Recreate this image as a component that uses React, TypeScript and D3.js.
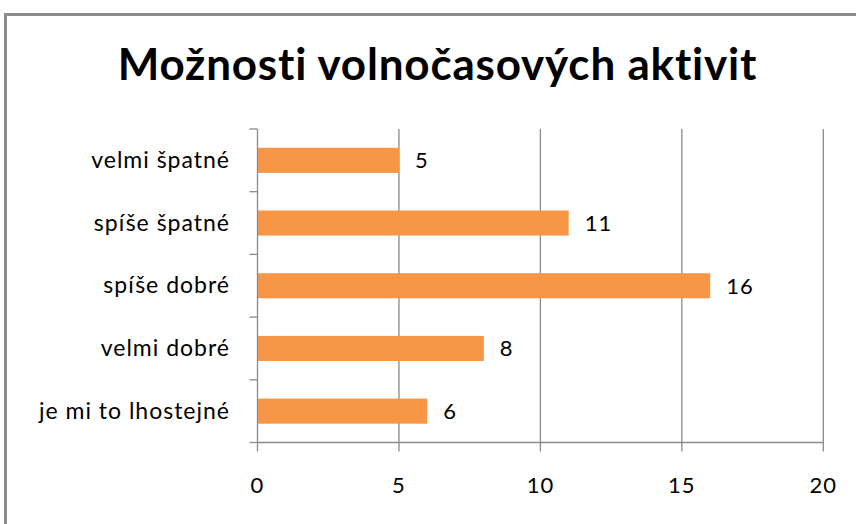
import React from "react";
import * as d3 from "d3";

const categories = ["velmi špatné", "spíše špatné", "spíše dobré", "velmi dobré", "je mi to lhostejné"];
const values = [5, 11, 16, 8, 6];
const xTicks = [0, 5, 10, 15, 20];
const title = "Možnosti volnočasových aktivit";

const W = 856;
const H = 524;
const plot = { left: 257.5, right: 823.3, top: 129, bottom: 442.5 };
const font = "Lato, 'Open Sans', sans-serif";
const grid = "#8a8a8a";

export default function App() {
  const x = d3.scaleLinear().domain([0, 20]).range([plot.left, plot.right]);
  const y = d3.scaleBand<string>().domain(categories).range([plot.top, plot.bottom]).paddingInner(0.6).paddingOuter(0.3);
  const band = d3.scaleBand<string>().domain(categories).range([plot.top, plot.bottom]);
  const bounds = categories.map((c) => band(c) as number).concat([plot.bottom]);

  return (
    <svg width={W} height={H} style={{ position: "absolute", left: 0, top: 0, background: "#fff" }}>
      <rect x={5.5} y={14.5} width={900} height={600} fill="#fff" stroke="#8c8c8c" strokeWidth={3} />
      <text x={437.5} y={80} textAnchor="middle" fontFamily={font} fontWeight={700} fontSize={44} letterSpacing={0.8} fill="#000">
        {title}
      </text>
      {xTicks.filter((t) => t > 0).map((t) => (
        <line key={"g" + t} x1={x(t)} x2={x(t)} y1={plot.top} y2={plot.bottom} stroke={grid} strokeWidth={1.3} />
      ))}
      {categories.map((c, i) => (
        <rect key={c} x={x(0)} y={y(c)} width={x(values[i]) - x(0)} height={y.bandwidth()} fill="#f79646" />
      ))}
      <line x1={plot.left} x2={plot.left} y1={plot.top} y2={plot.bottom} stroke={grid} strokeWidth={1.3} />
      <line x1={plot.left} x2={plot.right} y1={plot.bottom} y2={plot.bottom} stroke={grid} strokeWidth={1.3} />
      {bounds.map((b, i) => (
        <line key={"yt" + i} x1={plot.left - 8} x2={plot.left} y1={b} y2={b} stroke={grid} strokeWidth={1.3} />
      ))}
      {xTicks.map((t) => (
        <g key={"xt" + t}>
          <line x1={x(t)} x2={x(t)} y1={plot.bottom} y2={plot.bottom + 9} stroke={grid} strokeWidth={1.3} />
          <text x={x(t)} y={493} textAnchor="middle" fontFamily={font} fontSize={22} letterSpacing={1} fill="#000">
            {t}
          </text>
        </g>
      ))}
      {categories.map((c, i) => (
        <text key={"l" + c} x={230} y={(y(c) as number) + y.bandwidth() / 2 + 7.5} textAnchor="end" fontFamily={font} fontSize={23} letterSpacing={1} fill="#000">
          {c}
        </text>
      ))}
      {categories.map((c, i) => (
        <text key={"v" + c} x={x(values[i]) + 16} y={(y(c) as number) + y.bandwidth() / 2 + 8} fontFamily={font} fontSize={22} letterSpacing={1} fill="#000">
          {values[i]}
        </text>
      ))}
    </svg>
  );
}
